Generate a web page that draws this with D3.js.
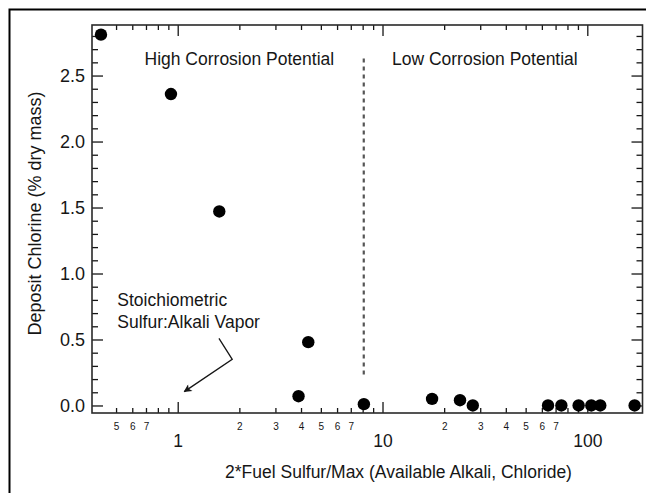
<!DOCTYPE html>
<html>
<head>
<meta charset="utf-8">
<script src="https://cdn.jsdelivr.net/npm/d3@7"></script>
<style>
  html, body { margin: 0; padding: 0; background: #fff; }
  svg { display: block; font-family: "Liberation Sans", Arial, Helvetica, sans-serif; }
</style>
</head>
<body>
<svg id="chart" width="646" height="493"></svg>
<script>
// ---- data ----
const ratio    = [0.422, 0.927, 1.596, 3.89, 4.34, 8.11, 17.46, 23.9, 27.6, 64.3, 74.7, 90.7, 104.6, 115.7, 170.2];
const chlorine = [2.81, 2.36, 1.47, 0.07, 0.48, 0.01, 0.05, 0.04, 0.0, 0.0, 0.0, 0.0, 0.0, 0.0, 0.0];

const xMajorTicks = [1, 10, 100];
const xMajorLabels = ["1", "10", "100"];
const xMinorTicks = [0.5, 0.6, 0.7, 0.8, 0.9, 2, 3, 4, 5, 6, 7, 8, 9, 20, 30, 40, 50, 60, 70, 80, 90];
const xMinorLabeled = [0.5, 0.6, 0.7, 2, 3, 4, 5, 6, 7, 20, 30, 40, 50, 60, 70];
const yMajorTicks = [0, 0.5, 1.0, 1.5, 2.0, 2.5];
const yMinorTicks = [0.1, 0.2, 0.3, 0.4, 0.6, 0.7, 0.8, 0.9, 1.1, 1.2, 1.3, 1.4, 1.6, 1.7, 1.8, 1.9, 2.1, 2.2, 2.3, 2.4, 2.6, 2.7, 2.8];

const xDomain = [0.3815, 186];
const yDomain = [-0.057, 2.883];

const xTitle = "2*Fuel Sulfur/Max (Available Alkali, Chloride)";
const yTitle = "Deposit Chlorine (% dry mass)";
const regionLabels = [
  { text: "High Corrosion Potential", x: 2.0, y: 2.58 },
  { text: "Low Corrosion Potential", x: 31.6, y: 2.58 }
];
const boundaryX = 8.1;
const boundaryY = [0.23, 2.63];
const noteLines = ["Stoichiometric", "Sulfur:Alkali Vapor"];
const noteAnchor = { x: 0.507, y: [0.754, 0.585] };
const arrowPath = [[1.59, 0.509], [1.846, 0.35], [1.077, 0.105]];

// ---- layout ----
const L = 92, R = 642.5, T = 25, B = 413;
const ink = "#161616";

const svg = d3.select("#chart");
const x = d3.scaleLog().domain(xDomain).range([L, R]);
const y = d3.scaleLinear().domain(yDomain).range([B, T]);

// outer frame (extends past the right / bottom edges)
svg.append("rect").attr("x", 9.5).attr("y", 9.5).attr("width", 700).attr("height", 600)
  .attr("fill", "none").attr("stroke", "#000").attr("stroke-width", 2);

svg.append("defs").append("marker")
  .attr("id", "ah").attr("viewBox", "0 0 10 10").attr("refX", 9).attr("refY", 5)
  .attr("markerWidth", 11).attr("markerHeight", 8).attr("markerUnits", "userSpaceOnUse")
  .attr("orient", "auto")
  .append("path").attr("d", "M0,0 L10,5 L0,10 L2.5,5 Z").attr("fill", ink);

function styleAxis(g) {
  g.select(".domain").remove();
  g.selectAll(".tick line").attr("stroke", ink).attr("stroke-width", 1.3);
  g.selectAll("text").attr("fill", ink);
}

// bottom axis — major
const gBM = svg.append("g").attr("transform", `translate(0,${B})`)
  .call(d3.axisBottom(x).tickValues(xMajorTicks).tickSize(-11)
    .tickFormat((d, i) => xMajorLabels[i]));
styleAxis(gBM);
gBM.selectAll("text").attr("y", 34).attr("dy", null).attr("font-size", 17.5).attr("font-family", null);

// bottom axis — minor
const gBm = svg.append("g").attr("transform", `translate(0,${B})`)
  .call(d3.axisBottom(x).tickValues(xMinorTicks).tickSize(-5)
    .tickFormat(d => xMinorLabeled.includes(d) ? String(d < 1 ? Math.round(d * 10) : d >= 10 ? d / 10 : d) : ""));
styleAxis(gBm);
gBm.selectAll("text").attr("y", 16.5).attr("dy", null).attr("font-size", 10).attr("font-family", null);

// top axis
const gTM = svg.append("g").attr("transform", `translate(0,${T})`)
  .call(d3.axisTop(x).tickValues(xMajorTicks).tickSize(-11).tickFormat(""));
styleAxis(gTM);
const gTm = svg.append("g").attr("transform", `translate(0,${T})`)
  .call(d3.axisTop(x).tickValues(xMinorTicks).tickSize(-5).tickFormat(""));
styleAxis(gTm);

// left axis
const gLM = svg.append("g").attr("transform", `translate(${L},0)`)
  .call(d3.axisLeft(y).tickValues(yMajorTicks).tickSize(-11).tickFormat(d3.format(".1f")));
styleAxis(gLM);
gLM.selectAll("text").attr("x", -7).attr("font-size", 18).attr("font-family", null);
const gLm = svg.append("g").attr("transform", `translate(${L},0)`)
  .call(d3.axisLeft(y).tickValues(yMinorTicks).tickSize(-6).tickFormat(""));
styleAxis(gLm);

// right axis
const gRM = svg.append("g").attr("transform", `translate(${R},0)`)
  .call(d3.axisRight(y).tickValues(yMajorTicks).tickSize(-11).tickFormat(""));
styleAxis(gRM);
const gRm = svg.append("g").attr("transform", `translate(${R},0)`)
  .call(d3.axisRight(y).tickValues(yMinorTicks).tickSize(-6).tickFormat(""));
styleAxis(gRm);

// plot box
svg.append("rect").attr("x", L).attr("y", T).attr("width", R - L).attr("height", B - T)
  .attr("fill", "none").attr("stroke", "#2a2a2a").attr("stroke-width", 1.6);

// boundary dashed line
svg.append("line")
  .attr("x1", x(boundaryX)).attr("x2", x(boundaryX))
  .attr("y1", y(boundaryY[1])).attr("y2", y(boundaryY[0]))
  .attr("stroke", "#555").attr("stroke-width", 2.2).attr("stroke-dasharray", "4,4");

// region labels
svg.selectAll("text.region").data(regionLabels).join("text")
  .attr("class", "region")
  .attr("x", d => x(d.x)).attr("y", d => y(d.y))
  .attr("text-anchor", "middle").attr("font-size", 17.5).attr("fill", ink)
  .text(d => d.text);

// note + arrow
noteLines.forEach((t, i) => {
  svg.append("text").attr("x", x(noteAnchor.x)).attr("y", y(noteAnchor.y[i]))
    .attr("font-size", 17.5).attr("fill", ink).text(t);
});
svg.append("path")
  .attr("d", d3.line().x(d => x(d[0])).y(d => y(d[1]))(arrowPath))
  .attr("fill", "none").attr("stroke", ink).attr("stroke-width", 1.3)
  .attr("marker-end", "url(#ah)");

// points
svg.selectAll("circle.pt").data(ratio.map((v, i) => [v, chlorine[i]])).join("circle")
  .attr("class", "pt")
  .attr("cx", d => x(d[0])).attr("cy", d => y(d[1])).attr("r", 6.2)
  .attr("fill", "#000");

// axis titles
svg.append("text").attr("x", 398.5).attr("y", 478)
  .attr("text-anchor", "middle").attr("font-size", 17.5).attr("fill", ink).text(xTitle);
svg.append("text").attr("transform", "translate(41,213.5) rotate(-90)")
  .attr("text-anchor", "middle").attr("font-size", 18).attr("fill", ink).text(yTitle);
</script>
</body>
</html>
